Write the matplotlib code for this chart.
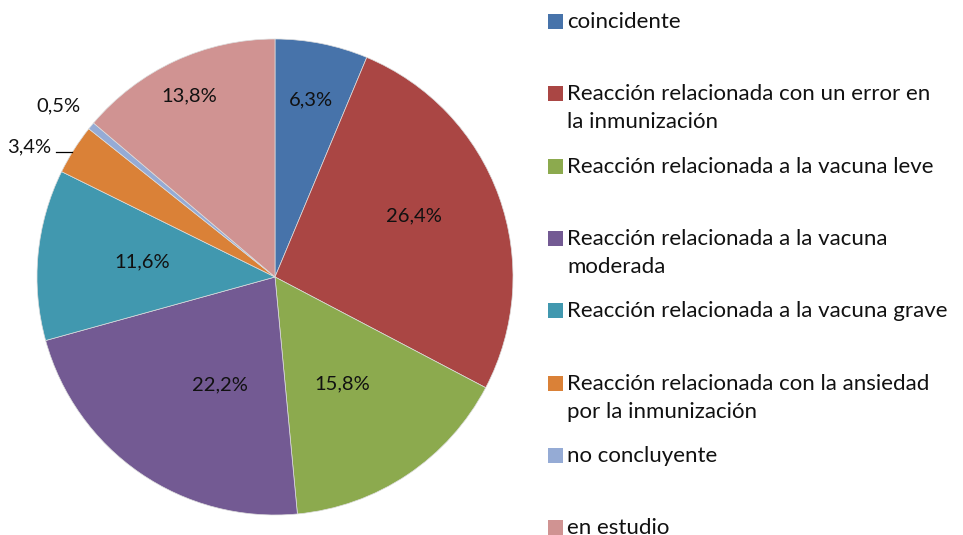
import numpy as np
import matplotlib
matplotlib.use("Agg")
import matplotlib.pyplot as plt
from matplotlib.patches import Rectangle

categories = [
    "coincidente",
    "Reacción relacionada con un error en\nla inmunización",
    "Reacción relacionada a la vacuna leve",
    "Reacción relacionada a la vacuna\nmoderada",
    "Reacción relacionada a la vacuna grave",
    "Reacción relacionada con la ansiedad\npor la inmunización",
    "no concluyente",
    "en estudio",
]
values = [6.3, 26.4, 15.8, 22.2, 11.6, 3.4, 0.5, 13.8]
labels = ["6,3%", "26,4%", "15,8%", "22,2%", "11,6%", "3,4%", "0,5%", "13,8%"]
colors = ["#4773AA", "#AA4644", "#8CAA4E", "#735A93", "#4198AF", "#DA8137",
          "#95ABD5", "#D09392"]

# label placement (radius fraction, angle offset in degrees)
label_r = [0.76, 0.64, 0.53, 0.51, 0.56, 1.17, 1.16, 0.84]
label_da = [0, 4, -1.5, 7.5, -1, 4.5, 1, 0.5]

plt.rcParams["font.family"] = ["Lato", "DejaVu Sans"]
fig = plt.figure(figsize=(9.63, 5.35), dpi=100)
W, H = 963, 535
ax = fig.add_axes([37 / W, 20 / H, 476 / W, 476 / H])
wedges, _ = ax.pie(values, colors=colors, startangle=90, counterclock=False,
                   radius=1.0, wedgeprops=dict(linewidth=0.5, edgecolor="#dddddd"))
ax.set_xlim(-1, 1)
ax.set_ylim(-1, 1)
ax.set_aspect("equal")
ax.axis("off")

for w, lab, r, da in zip(wedges, labels, label_r, label_da):
    mid = np.deg2rad((w.theta1 + w.theta2) / 2 + da)
    x, y = r * np.cos(mid), r * np.sin(mid)
    ax.text(x, y, lab, ha="center", va="center", fontsize=14.5, color="#111111",
            clip_on=False)

# leader line for 3,4%
w = wedges[5]
mid = np.deg2rad((w.theta1 + w.theta2) / 2)
xe, ye = 1.0 * np.cos(mid), 1.0 * np.sin(mid)
ax.plot([xe - 0.075, xe - 0.01], [ye - 0.01, ye - 0.01], color="black", lw=0.9,
        clip_on=False)

# legend
for i, (cat, col) in enumerate(zip(categories, colors)):
    yc = 21 + i * 72.3
    fig.patches.append(Rectangle((548 / W, 1 - (yc + 8) / H), 15 / W, 15 / H,
                                 transform=fig.transFigure, facecolor=col,
                                 edgecolor="none"))
    fig.text(567 / W, 1 - (yc - 9) / H, cat, ha="left", va="top", fontsize=16,
             color="#111111", linespacing=1.5)

fig.savefig("out.png", dpi=100)
